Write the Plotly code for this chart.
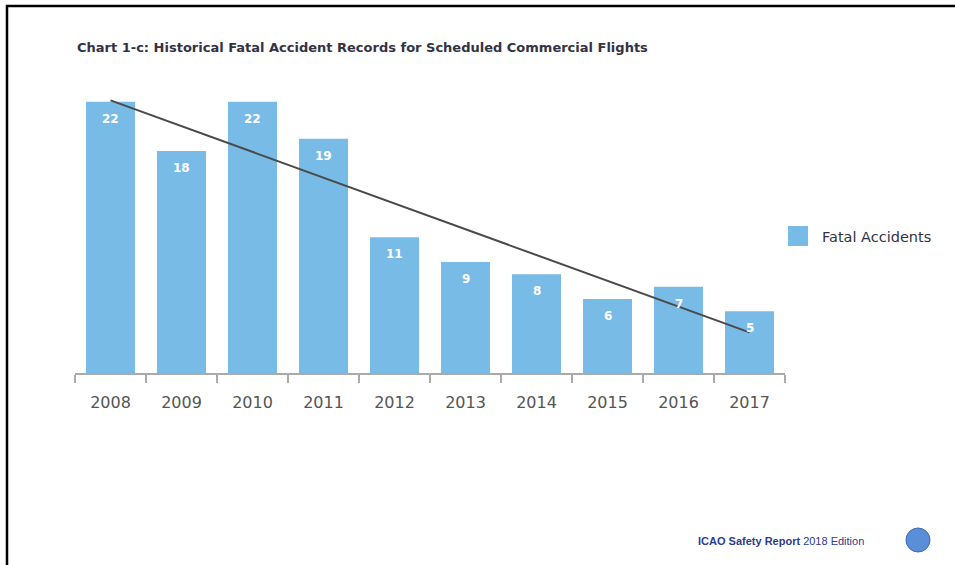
import numpy as np
import plotly.graph_objects as go

years = ["2008", "2009", "2010", "2011", "2012", "2013", "2014", "2015", "2016", "2017"]
fatal_accidents = [22, 18, 22, 19, 11, 9, 8, 6, 7, 5]

title_text = "Chart 1-c: Historical Fatal Accident Records for Scheduled Commercial Flights"
legend_text = "Fatal Accidents"
footer_bold = "ICAO Safety Report"
footer_light = "2018 Edition"

# linear trend through the data
idx = np.arange(len(years))
slope, intercept = np.polyfit(idx, fatal_accidents, 1)
trend = [float(intercept + slope * i) for i in (idx[0], idx[-1])]

BAR = "#78bbe7"
W, H = 955, 565
L, R, T, B = 75, 170, 77, 192
PW, PH = W - L - R, H - T - B


def px(x):
    return (x - L) / PW


def py(y):
    return (H - B - y) / PH


fig = go.Figure()
fig.add_trace(go.Bar(x=years, y=fatal_accidents, marker=dict(color=BAR, line=dict(width=0)),
                     showlegend=False, hoverinfo="x+y"))
fig.add_trace(go.Scatter(x=[years[0], years[-1]], y=trend, mode="lines",
                         line=dict(color="#4a4a4a", width=2), showlegend=False))

for i, v in enumerate(fatal_accidents):
    fig.add_annotation(x=i, y=v, text="<b>" + str(v) + "</b>", showarrow=False, yanchor="middle", yshift=-17,
                       font=dict(family="DejaVu Sans", size=12, color="white"))

fig.add_annotation(xref="paper", yref="paper", x=px(75), y=py(48), xanchor="left", yanchor="middle",
                   text="<b>" + title_text + "</b>", showarrow=False,
                   font=dict(family="DejaVu Sans", size=13, color="#333344"))

# legend (drawn manually)
fig.add_shape(type="rect", xref="paper", yref="paper", x0=px(788), x1=px(808), y0=py(246), y1=py(226),
              fillcolor=BAR, line=dict(width=0))
fig.add_annotation(xref="paper", yref="paper", x=px(820), y=py(237), xanchor="left", yanchor="middle",
                   text=legend_text, showarrow=False,
                   font=dict(family="DejaVu Sans", size=14.5, color="#333344"))

# footer
fig.add_annotation(xref="paper", yref="paper", x=px(866), y=py(541), xanchor="right", yanchor="middle",
                   text="<b>" + footer_bold + "</b> " + footer_light, showarrow=False,
                   font=dict(family="Liberation Sans Narrow, Liberation Sans", size=11, color="#2d3b8e"))
fig.add_shape(type="circle", xref="paper", yref="paper", x0=px(906), x1=px(930), y0=py(552), y1=py(528),
              fillcolor="#5a8fd8", line=dict(color="#3a6ab8", width=1))

# frame
fig.add_shape(type="rect", xref="paper", yref="paper", x0=px(7), x1=px(970), y0=py(580), y1=py(6),
              line=dict(color="black", width=2.5), fillcolor="rgba(0,0,0,0)")

fig.update_layout(
    width=W, height=H,
    margin=dict(l=L, r=R, t=T, b=B),
    paper_bgcolor="white", plot_bgcolor="white",
    bargap=0.31,
    xaxis=dict(type="category", showline=True, linecolor="#aaaaaa", linewidth=2,
               ticks="outside", tickson="boundaries", ticklen=8, tickcolor="#aaaaaa", tickwidth=2,
               showgrid=False, tickfont=dict(family="DejaVu Sans", size=16, color="#555555"),
               ticklabelstandoff=14, range=[-0.5, 9.5]),
    yaxis=dict(visible=False, range=[0, 24], showgrid=False),
)

fig.write_html("out.html")
